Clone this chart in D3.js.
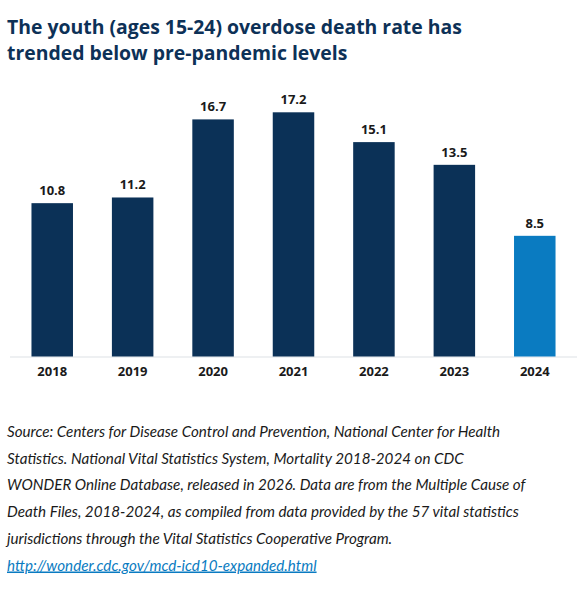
<!DOCTYPE html>
<html>
<head>
<meta charset="utf-8">
<script src="https://cdn.jsdelivr.net/npm/d3@7"></script>
<style>
  body { margin: 0; background: #fff; }
</style>
</head>
<body>
<div id="chart"></div>
<script>
const years = ["2018", "2019", "2020", "2021", "2022", "2023", "2024"];
const rates = [10.8, 11.2, 16.7, 17.2, 15.1, 13.5, 8.5];
const titleLines = [
  "The youth (ages 15-24) overdose death rate has",
  "trended below pre-pandemic levels"
];
const sourceLines = [
  "Source: Centers for Disease Control and Prevention, National Center for Health",
  "Statistics. National Vital Statistics System, Mortality 2018-2024 on CDC",
  "WONDER Online Database, released in 2026. Data are from the Multiple Cause of",
  "Death Files, 2018-2024, as compiled from data provided by the 57 vital statistics",
  "jurisdictions through the Vital Statistics Cooperative Program."
];
const sourceLink = "http://wonder.cdc.gov/mcd-icd10-expanded.html";

const WIDTH = 584, HEIGHT = 594;
const BASE = 356.5; // y of the baseline
const data = years.map((y, i) => ({ year: y, rate: rates[i] }));

const svg = d3.select("#chart")
  .append("svg")
    .attr("width", WIDTH)
    .attr("height", HEIGHT);

// title
svg.append("g")
  .selectAll("text")
  .data(titleLines)
  .enter().append("text")
    .attr("x", 7)
    .attr("y", (d, i) => 34 + i * 26)
    .attr("font-family", "'Open Sans', sans-serif")
    .attr("font-weight", 700)
    .attr("font-size", 19.4)
    .attr("fill", "#0d3157")
    .text(d => d);

const x = d3.scaleBand()
  .domain(years)
  .range([10, 577])
  .paddingInner(0.484)
  .paddingOuter(0.267);

const y = d3.scaleLinear()
  .domain([0, 17.2])
  .range([BASE, 112.3]);

// baseline
svg.append("line")
  .attr("x1", 10).attr("x2", 577)
  .attr("y1", BASE + 0.5).attr("y2", BASE + 0.5)
  .attr("stroke", "#dde1e6")
  .attr("stroke-width", 1.2);

svg.selectAll("rect.bar")
  .data(data)
  .enter().append("rect")
    .attr("class", "bar")
    .attr("x", d => x(d.year))
    .attr("y", d => y(d.rate))
    .attr("width", x.bandwidth())
    .attr("height", d => BASE - y(d.rate))
    .attr("fill", d => d.year === "2024" ? "#0a7bc1" : "#0b3157");

// value labels
svg.selectAll("text.val")
  .data(data)
  .enter().append("text")
    .attr("class", "val")
    .attr("x", d => x(d.year) + x.bandwidth() / 2)
    .attr("y", d => y(d.rate) - 8)
    .attr("text-anchor", "middle")
    .attr("font-family", "'Open Sans', sans-serif")
    .attr("font-weight", 700)
    .attr("font-size", 13)
    .attr("fill", "#1a1a1a")
    .text(d => d.rate.toFixed(1));

// year labels
const xAxis = svg.append("g")
  .attr("transform", `translate(0, ${BASE})`)
  .call(d3.axisBottom(x).tickSize(0).tickPadding(0));
xAxis.select(".domain").remove();
xAxis.selectAll("text")
  .attr("dy", null)
  .attr("y", 19)
  .attr("font-family", "'Open Sans', sans-serif")
  .attr("font-weight", 700)
  .attr("font-size", 13)
  .attr("fill", "#1a1a1a");

// source note
svg.append("g")
  .selectAll("text")
  .data(sourceLines)
  .enter().append("text")
    .attr("x", 7)
    .attr("y", (d, i) => 437 + i * 26.7)
    .attr("font-family", "Lato, sans-serif")
    .attr("font-style", "italic")
    .attr("font-size", 15.2)
    .attr("fill", "#1a1a1a")
    .text(d => d);

svg.append("a")
  .attr("href", sourceLink)
  .append("text")
    .attr("x", 7)
    .attr("y", 437 + 5 * 26.7)
    .attr("font-family", "Lato, sans-serif")
    .attr("font-style", "italic")
    .attr("font-size", 15.2)
    .attr("fill", "#0a7bc1")
    .attr("text-decoration", "underline")
    .text(sourceLink);
</script>
</body>
</html>
